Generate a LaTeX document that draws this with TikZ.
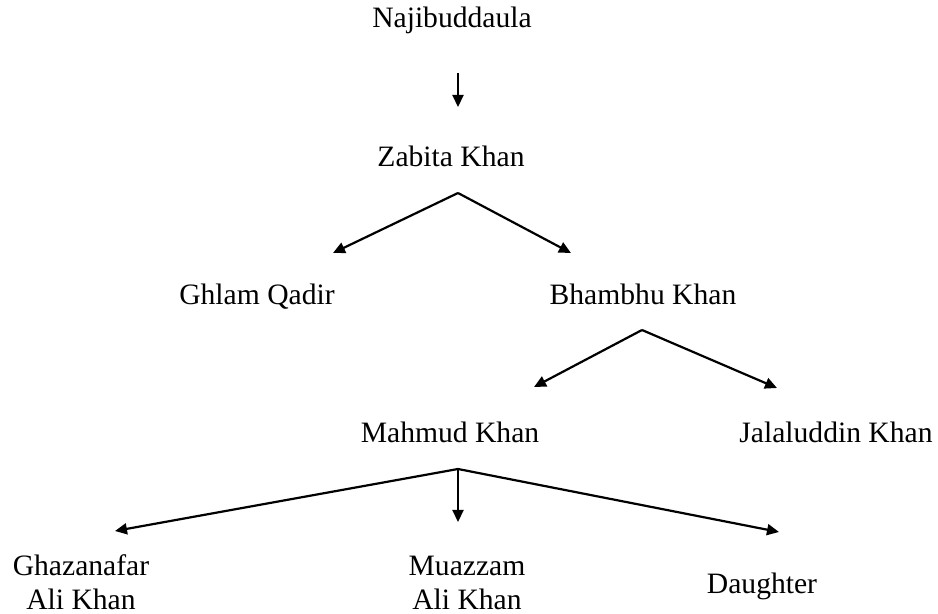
\documentclass[tikz,border=0pt]{standalone}
\usepackage{fontspec}
\setmainfont{Liberation Serif}
\usetikzlibrary{arrows.meta}

\begin{document}
\begin{tikzpicture}[x=0.5pt,y=-0.5pt,
   person/.style={anchor=base,align=center,inner sep=0pt,font=\fontsize{14.8}{17}\selectfont},
   arr/.style={line width=1.1pt,-{Triangle[length=6pt,width=5.5pt]}}]
\useasboundingbox (0,0) rectangle (938,614);
% people
\node[person] (naj) at (452,28) {Najibuddaula};
\node[person] (zabita) at (451,167) {Zabita Khan};
\node[person] (ghulam) at (257,305) {Ghlam Qadir};
\node[person] (bhambhu) at (643,305) {Bhambhu Khan};
\node[person] (mahmud) at (450,443) {Mahmud Khan};
\node[person] (jalal) at (836,443) {Jalaluddin Khan};
\node[person] (ghaz) at (81,610) {Ghazanafar\\Ali Khan};
\node[person] (muazz) at (467,610) {Muazzam\\Ali Khan};
\node[person] (daughter) at (762,594) {Daughter};
% arrow ends
\coordinate (naj-s) at (458,73);
\coordinate (zabita-n) at (458,107);
\coordinate (zabita-s) at (458,193);
\coordinate (ghulam-n) at (333,253);
\coordinate (bhambhu-n) at (571,253);
\coordinate (bhambhu-s) at (642,330);
\coordinate (mahmud-n) at (534,387);
\coordinate (jalal-n) at (777,388);
\coordinate (mahmud-s) at (458,469);
\coordinate (ghaz-n) at (115,531);
\coordinate (muazz-n) at (458,522);
\coordinate (daughter-n) at (779,532);
\foreach \s/\e in %
{naj-s/zabita-n,zabita-s/ghulam-n,zabita-s/bhambhu-n,bhambhu-s/mahmud-n,bhambhu-s/jalal-n,mahmud-s/ghaz-n,mahmud-s/muazz-n,mahmud-s/daughter-n} {
   \draw[arr] (\s) -- (\e);
}
\end{tikzpicture}
\end{document}
